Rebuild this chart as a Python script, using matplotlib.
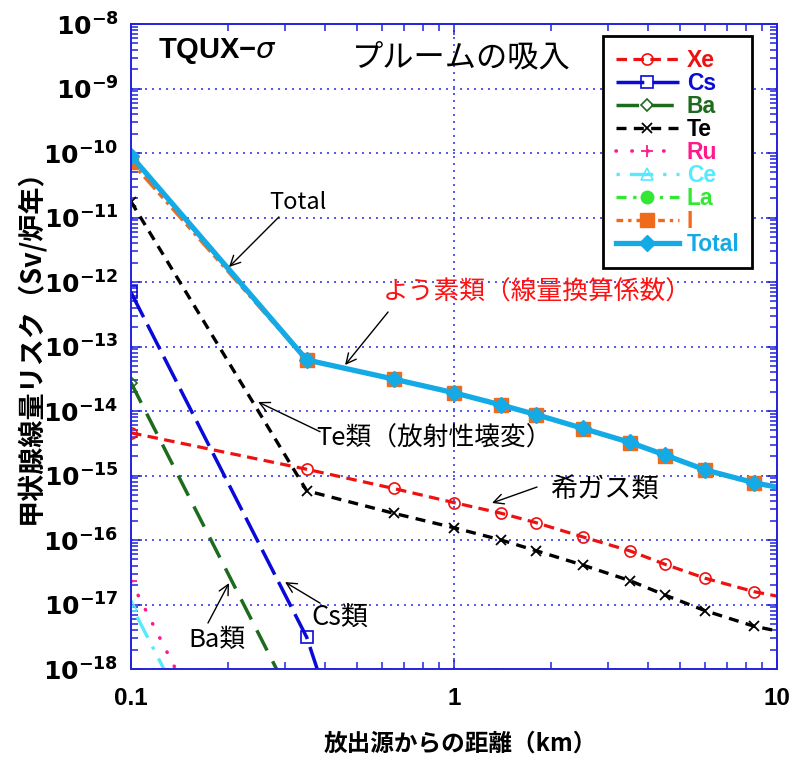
import matplotlib
matplotlib.use("Agg")
import matplotlib.pyplot as plt
from matplotlib.ticker import FixedLocator, LogLocator, NullFormatter, FixedFormatter

plt.rcParams["font.family"] = ["Liberation Sans", "Noto Sans CJK JP", "DejaVu Sans"]
plt.rcParams["mathtext.fontset"] = "dejavusans"

# ---- data: thyroid dose risk (Sv / reactor-year) vs distance from release point ----
distance_km = [0.1, 0.35, 0.65, 1.0, 1.4, 1.8, 2.5, 3.5, 4.5, 6.0, 8.5, 10.0]

risk_xe = [4.6e-15, 1.25e-15, 6.3e-16, 3.8e-16, 2.6e-16, 1.85e-16, 1.12e-16,
           6.8e-17, 4.2e-17, 2.55e-17, 1.58e-17, 1.35e-17]
risk_cs = [6.9e-13, 3.1e-18, 2.6e-22, 3.0e-24, 1.0e-25, 8.0e-27, 2.0e-28,
           5.0e-30, 2.0e-31, 4.0e-33, 3.0e-35, 5.0e-36]
risk_ba = [2.75e-14, 1.2e-19, 5.0e-23, 6.0e-25, 2.0e-26, 1.5e-27, 4.0e-29,
           1.0e-30, 4.0e-32, 8.0e-34, 6.0e-36, 1.0e-36]
risk_te = [1.76e-11, 5.8e-16, 2.6e-16, 1.55e-16, 1.0e-16, 6.8e-17, 4.1e-17,
           2.35e-17, 1.4e-17, 8.0e-18, 4.6e-18, 3.9e-18]
risk_ru = [2.3e-17, 1.0e-22, 4.0e-26, 5.0e-28, 2.0e-29, 1.5e-30, 4.0e-32,
           1.0e-33, 4.0e-35, 8.0e-37, 6.0e-39, 1.0e-39]
risk_ce = [9.8e-18, 5.0e-23, 2.0e-26, 2.5e-28, 1.0e-29, 7.0e-31, 2.0e-32,
           5.0e-34, 2.0e-35, 4.0e-37, 3.0e-39, 5.0e-40]
risk_la = [4.0e-19, 2.0e-24, 8.0e-28, 1.0e-29, 4.0e-31, 3.0e-32, 8.0e-34,
           2.0e-35, 8.0e-37, 1.6e-38, 1.2e-40, 2.0e-41]
risk_i = [7.3e-11, 6.1e-14, 3.1e-14, 1.9e-14, 1.22e-14, 8.65e-15, 5.3e-15,
          3.2e-15, 2.04e-15, 1.2e-15, 7.55e-16, 6.5e-16]
risk_total = [9.1e-11, 6.2e-14, 3.13e-14, 1.92e-14, 1.24e-14, 8.77e-15, 5.4e-15,
              3.27e-15, 2.08e-15, 1.22e-15, 7.73e-16, 6.6e-16]

x_ticks = [0.1, 1, 10]
x_tick_labels = ["0.1", "1", "10"]
y_exponents = list(range(-18, -7))

# ---- figure ----
fig = plt.figure(figsize=(7.92, 7.6), dpi=100)
ax = fig.add_axes([0.1654, 0.1197, 0.8157, 0.8487])
ax.set_xscale("log")
ax.set_yscale("log")
ax.set_xlim(0.1, 10)
ax.set_ylim(1e-18, 1e-8)

marks = slice(0, -1)   # no marker on the closing point at the right edge

series = [
    ("Xe", risk_xe, dict(color="#ee1111", ls=(0, (3.3, 2.0)), lw=2.3, marker="o", ms=8,
                         mfc="none", mew=1.2)),
    ("Cs", risk_cs, dict(color="#0a0ad8", ls=(0, (8.0, 2.4)), lw=2.5, marker="s", ms=8,
                         mfc="none", mew=1.2)),
    ("Ba", risk_ba, dict(color="#1d6b1d", ls=(0, (6.5, 3.5)), lw=2.5, marker="D", ms=6.5,
                         mfc="none", mew=1.2)),
    ("Te", risk_te, dict(color="#000000", ls=(0, (3.0, 2.2)), lw=2.4, marker="x", ms=7.5,
                         mew=1.3)),
    ("Ru", risk_ru, dict(color="#ff1a8c", ls=(0, (0.1, 4.3)), lw=2.6, marker="+", ms=8,
                         mew=1.3, dash_capstyle="round")),
    ("Ce", risk_ce, dict(color="#55eaff", ls=(0, (1.0, 3.0, 7.0, 3.0)), lw=2.4, marker="^",
                         ms=8, mfc="none", mew=1.2)),
    ("La", risk_la, dict(color="#33e833", ls=(0, (3.0, 2.0, 1.0, 2.0)), lw=2.4, marker="o",
                         ms=9, mfc="#33e833")),
    ("I", risk_i, dict(color="#f06a1c", ls=(0, (2.0, 1.5, 1.0, 1.5, 5.0, 1.5)), lw=2.4,
                       marker="s", ms=9.5, mfc="#f06a1c", mec="#f06a1c")),
    ("Total", risk_total, dict(color="#14aae6", ls="-", lw=3.8, marker="D", ms=8,
                               mfc="#14aae6", mec="#14aae6")),
]

for name, values, style in series:
    ax.plot(distance_km, values, label=name, markevery=marks, clip_on=True, **style)

# ---- axes styling ----
axis_blue = "#2222dd"
for sp in ax.spines.values():
    sp.set_color(axis_blue)
    sp.set_linewidth(1.4)

ax.xaxis.set_major_locator(FixedLocator(x_ticks))
ax.xaxis.set_major_formatter(FixedFormatter(x_tick_labels))
ax.xaxis.set_minor_locator(LogLocator(base=10, subs=range(2, 10), numticks=20))
ax.xaxis.set_minor_formatter(NullFormatter())

y_ticks = [10.0 ** e for e in y_exponents]
ax.yaxis.set_major_locator(FixedLocator(y_ticks))
ax.yaxis.set_major_formatter(FixedFormatter([r"$\mathbf{10^{%d}}$" % e for e in y_exponents]))
ax.yaxis.set_minor_locator(LogLocator(base=10, subs=range(2, 10), numticks=30))
ax.yaxis.set_minor_formatter(NullFormatter())

ax.tick_params(which="both", direction="in", top=True, right=True, color=axis_blue, width=1.1)
ax.tick_params(which="major", length=8)
ax.tick_params(which="minor", length=5)
ax.tick_params(axis="x", which="major", pad=13, labelsize=17.5)
ax.tick_params(axis="y", which="major", pad=9, labelsize=18)
for lab in ax.get_xticklabels():
    lab.set_fontweight("bold")

ax.grid(which="major", color="#3a3aee", linestyle=(0, (1.2, 3.0)), linewidth=1.2)

ax.set_xlabel("放出源からの距離（km）", fontsize=17, fontweight="bold",
              family=["Noto Sans CJK JP", "Liberation Sans"])
ax.set_ylabel("甲状腺線量リスク（Sv/炉年）", fontsize=19.5, fontweight="bold",
              family=["Noto Sans CJK JP", "Liberation Sans"])
ax.xaxis.set_label_coords(0.51, -0.097)
ax.yaxis.set_label_coords(-0.134, 0.51)

# ---- in-plot captions ----
cjk = ["Noto Sans CJK JP", "DejaVu Sans"]
ax.text(0.042, 0.958, r"TQUX−$\sigma$", transform=ax.transAxes, fontsize=21,
        fontweight="bold", ha="left", va="center", family=["Liberation Sans", "DejaVu Sans"])
ax.text(0.5116, 0.949, "プルームの吸入", transform=ax.transAxes, fontsize=22.5,
        ha="center", va="center", family=cjk)

arrow = dict(arrowstyle="->", color="black", lw=1.0, shrinkA=0, shrinkB=0,
             mutation_scale=18)


def callout(text, text_xy, tail_xy, head_xy, color="black", size=17):
    ax.text(*text_xy, text, fontsize=size, color=color, ha="center", va="center", family=cjk)
    ax.annotate("", xy=head_xy, xytext=tail_xy, arrowprops=arrow)


callout("Total", (0.329, 1.74e-11), (0.287, 1.02e-11), (0.2011, 1.71e-12))
callout("よう素類（線量換算係数）", (1.81, 6.75e-13), (0.625, 3.43e-13), (0.46, 5.17e-14),
        color="#ff1111", size=18.5)
callout("Te類（放射性壊変）", (0.87, 3.68e-15), (0.385, 4.78e-15), (0.2474, 1.38e-14),
        size=18.5)
callout("希ガス類", (2.913, 5.96e-16), (1.807, 6.63e-16), (1.311, 3.75e-16), size=19.5)
callout("Cs類", (0.4436, 6.4e-18), (0.385, 1.05e-17), (0.2998, 2.23e-17), size=19.5)
callout("Ba類", (0.1846, 2.82e-18), (0.1731, 5.16e-18), (0.2011, 2.15e-17), size=18.5)

# ---- legend ----
leg = ax.legend(loc="upper left", bbox_to_anchor=(0.7307, 0.9814), borderaxespad=0,
                fancybox=False, framealpha=1, edgecolor="black",
                labelspacing=0.0, handlelength=2.75, handletextpad=0.35,
                borderpad=0.55, prop=dict(family="Liberation Sans", weight="bold", size=16.5))
leg.get_frame().set_linewidth(2.0)
for text, line in zip(leg.get_texts(), leg.get_lines()):
    text.set_color(line.get_color())

fig.savefig("out.png", dpi=100)
